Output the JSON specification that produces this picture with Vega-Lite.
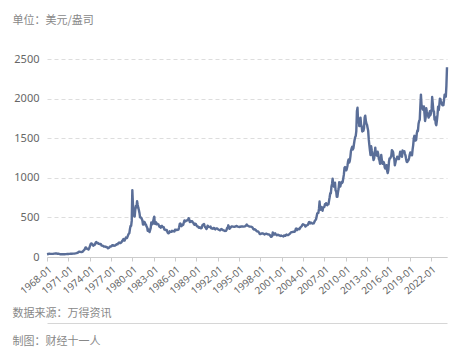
{
  "$schema": "https://vega.github.io/schema/vega-lite/v6.json",
  "autosize": "none",
  "width": 400,
  "height": 198,
  "padding": {"left": 47, "top": 59, "right": 17, "bottom": 107},
  "background": "white",
  "config": {
    "view": {"stroke": null},
    "font": "Noto Sans CJK SC"
  },
  "data": {
    "values": [
      {"date": "1968-01", "price": 35.2}, {"date": "1968-03", "price": 38}, {"date": "1968-05", "price": 41}, {"date": "1968-07", "price": 39.5}, {"date": "1968-09", "price": 39.5}, {"date": "1968-11", "price": 39.5},
      {"date": "1969-01", "price": 42.5}, {"date": "1969-03", "price": 43.5}, {"date": "1969-05", "price": 43.5}, {"date": "1969-07", "price": 41.7}, {"date": "1969-09", "price": 40.8}, {"date": "1969-11", "price": 35.4},
      {"date": "1970-01", "price": 34.9}, {"date": "1970-03", "price": 35.5}, {"date": "1970-05", "price": 35.9}, {"date": "1970-07", "price": 35.3}, {"date": "1970-09", "price": 36.2}, {"date": "1970-11", "price": 37.4},
      {"date": "1971-01", "price": 37.9}, {"date": "1971-03", "price": 38.9}, {"date": "1971-05", "price": 40.5}, {"date": "1971-07", "price": 40.9}, {"date": "1971-09", "price": 42.0}, {"date": "1971-11", "price": 42.9},
      {"date": "1972-01", "price": 45.8}, {"date": "1972-03", "price": 48.3}, {"date": "1972-05", "price": 54.6}, {"date": "1972-07", "price": 65.7}, {"date": "1972-08", "price": 67}, {"date": "1972-09", "price": 65.5}, {"date": "1972-11", "price": 62.8},
      {"date": "1973-01", "price": 65.1}, {"date": "1973-02", "price": 74.2}, {"date": "1973-03", "price": 84.3}, {"date": "1973-04", "price": 90.5}, {"date": "1973-05", "price": 102}, {"date": "1973-06", "price": 120}, {"date": "1973-07", "price": 120}, {"date": "1973-08", "price": 106}, {"date": "1973-09", "price": 103}, {"date": "1973-10", "price": 100}, {"date": "1973-11", "price": 94.8}, {"date": "1973-12", "price": 106.7},
      {"date": "1974-01", "price": 129}, {"date": "1974-02", "price": 150}, {"date": "1974-03", "price": 168}, {"date": "1974-04", "price": 172}, {"date": "1974-05", "price": 163}, {"date": "1974-06", "price": 154}, {"date": "1974-07", "price": 143}, {"date": "1974-08", "price": 154}, {"date": "1974-09", "price": 151}, {"date": "1974-10", "price": 158}, {"date": "1974-11", "price": 181}, {"date": "1974-12", "price": 190},
      {"date": "1975-01", "price": 176}, {"date": "1975-02", "price": 179}, {"date": "1975-03", "price": 178}, {"date": "1975-04", "price": 167}, {"date": "1975-05", "price": 167}, {"date": "1975-06", "price": 164}, {"date": "1975-07", "price": 165}, {"date": "1975-08", "price": 163}, {"date": "1975-09", "price": 144}, {"date": "1975-10", "price": 143}, {"date": "1975-11", "price": 142}, {"date": "1975-12", "price": 139.3},
      {"date": "1976-01", "price": 131}, {"date": "1976-02", "price": 131}, {"date": "1976-03", "price": 132}, {"date": "1976-04", "price": 128}, {"date": "1976-05", "price": 126}, {"date": "1976-06", "price": 125.8}, {"date": "1976-07", "price": 117}, {"date": "1976-08", "price": 109}, {"date": "1976-09", "price": 114}, {"date": "1976-10", "price": 117}, {"date": "1976-11", "price": 130}, {"date": "1976-12", "price": 134},
      {"date": "1977-01", "price": 132}, {"date": "1977-02", "price": 136}, {"date": "1977-03", "price": 148}, {"date": "1977-04", "price": 149}, {"date": "1977-05", "price": 146}, {"date": "1977-06", "price": 141}, {"date": "1977-07", "price": 143}, {"date": "1977-08", "price": 145}, {"date": "1977-09", "price": 150}, {"date": "1977-10", "price": 159}, {"date": "1977-11", "price": 162}, {"date": "1977-12", "price": 160},
      {"date": "1978-01", "price": 173}, {"date": "1978-02", "price": 178}, {"date": "1978-03", "price": 184}, {"date": "1978-04", "price": 175}, {"date": "1978-05", "price": 176}, {"date": "1978-06", "price": 183}, {"date": "1978-07", "price": 189}, {"date": "1978-08", "price": 206}, {"date": "1978-09", "price": 212}, {"date": "1978-10", "price": 227}, {"date": "1978-11", "price": 206}, {"date": "1978-12", "price": 208},
      {"date": "1979-01", "price": 227}, {"date": "1979-02", "price": 245}, {"date": "1979-03", "price": 242}, {"date": "1979-04", "price": 239}, {"date": "1979-05", "price": 257}, {"date": "1979-06", "price": 279}, {"date": "1979-07", "price": 295}, {"date": "1979-08", "price": 301}, {"date": "1979-09", "price": 355}, {"date": "1979-10", "price": 392}, {"date": "1979-11", "price": 392}, {"date": "1979-12", "price": 456},
      {"date": "1980-01", "price": 845}, {"date": "1980-02", "price": 665}, {"date": "1980-03", "price": 553}, {"date": "1980-04", "price": 517}, {"date": "1980-05", "price": 513}, {"date": "1980-06", "price": 600}, {"date": "1980-07", "price": 645}, {"date": "1980-08", "price": 627}, {"date": "1980-09", "price": 705}, {"date": "1980-10", "price": 660}, {"date": "1980-11", "price": 623}, {"date": "1980-12", "price": 594},
      {"date": "1981-01", "price": 557}, {"date": "1981-02", "price": 500}, {"date": "1981-03", "price": 499}, {"date": "1981-04", "price": 496}, {"date": "1981-05", "price": 479}, {"date": "1981-06", "price": 460}, {"date": "1981-07", "price": 410}, {"date": "1981-08", "price": 410}, {"date": "1981-09", "price": 444}, {"date": "1981-10", "price": 437}, {"date": "1981-11", "price": 413}, {"date": "1981-12", "price": 410},
      {"date": "1982-01", "price": 384}, {"date": "1982-02", "price": 374}, {"date": "1982-03", "price": 330}, {"date": "1982-04", "price": 350}, {"date": "1982-05", "price": 334}, {"date": "1982-06", "price": 315}, {"date": "1982-07", "price": 339}, {"date": "1982-08", "price": 364}, {"date": "1982-09", "price": 436}, {"date": "1982-10", "price": 422}, {"date": "1982-11", "price": 414}, {"date": "1982-12", "price": 447},
      {"date": "1983-01", "price": 481}, {"date": "1983-02", "price": 510}, {"date": "1983-03", "price": 420}, {"date": "1983-04", "price": 432}, {"date": "1983-05", "price": 438}, {"date": "1983-06", "price": 413}, {"date": "1983-07", "price": 422}, {"date": "1983-08", "price": 416}, {"date": "1983-09", "price": 412}, {"date": "1983-10", "price": 394}, {"date": "1983-11", "price": 382}, {"date": "1983-12", "price": 388},
      {"date": "1984-01", "price": 370}, {"date": "1984-02", "price": 386}, {"date": "1984-03", "price": 394}, {"date": "1984-04", "price": 381}, {"date": "1984-05", "price": 377}, {"date": "1984-06", "price": 377}, {"date": "1984-07", "price": 348}, {"date": "1984-08", "price": 348}, {"date": "1984-09", "price": 341}, {"date": "1984-10", "price": 340}, {"date": "1984-11", "price": 341}, {"date": "1984-12", "price": 320},
      {"date": "1985-01", "price": 303}, {"date": "1985-02", "price": 299}, {"date": "1985-03", "price": 304}, {"date": "1985-04", "price": 324}, {"date": "1985-05", "price": 316}, {"date": "1985-06", "price": 317}, {"date": "1985-07", "price": 317}, {"date": "1985-08", "price": 330}, {"date": "1985-09", "price": 324}, {"date": "1985-10", "price": 326}, {"date": "1985-11", "price": 325}, {"date": "1985-12", "price": 322},
      {"date": "1986-01", "price": 345}, {"date": "1986-02", "price": 338}, {"date": "1986-03", "price": 345}, {"date": "1986-04", "price": 340}, {"date": "1986-05", "price": 342}, {"date": "1986-06", "price": 343}, {"date": "1986-07", "price": 348}, {"date": "1986-08", "price": 376}, {"date": "1986-09", "price": 418}, {"date": "1986-10", "price": 424}, {"date": "1986-11", "price": 395}, {"date": "1986-12", "price": 390},
      {"date": "1987-01", "price": 408}, {"date": "1987-02", "price": 401}, {"date": "1987-03", "price": 409}, {"date": "1987-04", "price": 438}, {"date": "1987-05", "price": 461}, {"date": "1987-06", "price": 449}, {"date": "1987-07", "price": 450}, {"date": "1987-08", "price": 460}, {"date": "1987-09", "price": 460}, {"date": "1987-10", "price": 466}, {"date": "1987-11", "price": 467}, {"date": "1987-12", "price": 490},
      {"date": "1988-01", "price": 477}, {"date": "1988-02", "price": 442}, {"date": "1988-03", "price": 444}, {"date": "1988-04", "price": 452}, {"date": "1988-05", "price": 451}, {"date": "1988-06", "price": 452}, {"date": "1988-07", "price": 437}, {"date": "1988-08", "price": 432}, {"date": "1988-09", "price": 413}, {"date": "1988-10", "price": 407}, {"date": "1988-11", "price": 420}, {"date": "1988-12", "price": 419},
      {"date": "1989-01", "price": 404}, {"date": "1989-02", "price": 388}, {"date": "1989-03", "price": 390}, {"date": "1989-04", "price": 384}, {"date": "1989-05", "price": 371}, {"date": "1989-06", "price": 368}, {"date": "1989-07", "price": 375}, {"date": "1989-08", "price": 366}, {"date": "1989-09", "price": 362}, {"date": "1989-10", "price": 367}, {"date": "1989-11", "price": 394}, {"date": "1989-12", "price": 409},
      {"date": "1990-01", "price": 410}, {"date": "1990-02", "price": 417}, {"date": "1990-03", "price": 393}, {"date": "1990-04", "price": 374}, {"date": "1990-05", "price": 369}, {"date": "1990-06", "price": 352}, {"date": "1990-07", "price": 362}, {"date": "1990-08", "price": 395}, {"date": "1990-09", "price": 389}, {"date": "1990-10", "price": 381}, {"date": "1990-11", "price": 381}, {"date": "1990-12", "price": 378},
      {"date": "1991-01", "price": 384}, {"date": "1991-02", "price": 363}, {"date": "1991-03", "price": 363}, {"date": "1991-04", "price": 358}, {"date": "1991-05", "price": 357}, {"date": "1991-06", "price": 367}, {"date": "1991-07", "price": 368}, {"date": "1991-08", "price": 356}, {"date": "1991-09", "price": 349}, {"date": "1991-10", "price": 359}, {"date": "1991-11", "price": 361}, {"date": "1991-12", "price": 361},
      {"date": "1992-01", "price": 354}, {"date": "1992-03", "price": 344}, {"date": "1992-05", "price": 337}, {"date": "1992-07", "price": 353}, {"date": "1992-09", "price": 345}, {"date": "1992-11", "price": 335},
      {"date": "1993-01", "price": 329}, {"date": "1993-03", "price": 330}, {"date": "1993-04", "price": 342}, {"date": "1993-05", "price": 367}, {"date": "1993-06", "price": 372}, {"date": "1993-07", "price": 400}, {"date": "1993-08", "price": 379}, {"date": "1993-09", "price": 355}, {"date": "1993-10", "price": 365}, {"date": "1993-11", "price": 374}, {"date": "1993-12", "price": 383},
      {"date": "1994-01", "price": 387}, {"date": "1994-03", "price": 384}, {"date": "1994-05", "price": 381}, {"date": "1994-07", "price": 385}, {"date": "1994-09", "price": 392}, {"date": "1994-11", "price": 384},
      {"date": "1995-01", "price": 379}, {"date": "1995-03", "price": 382}, {"date": "1995-05", "price": 385}, {"date": "1995-07", "price": 386}, {"date": "1995-09", "price": 383}, {"date": "1995-11", "price": 386},
      {"date": "1996-01", "price": 400}, {"date": "1996-02", "price": 410}, {"date": "1996-03", "price": 396}, {"date": "1996-05", "price": 392}, {"date": "1996-07", "price": 383}, {"date": "1996-09", "price": 383}, {"date": "1996-11", "price": 378}, {"date": "1996-12", "price": 369},
      {"date": "1997-01", "price": 355}, {"date": "1997-02", "price": 346}, {"date": "1997-03", "price": 352}, {"date": "1997-05", "price": 344}, {"date": "1997-07", "price": 324}, {"date": "1997-09", "price": 323}, {"date": "1997-11", "price": 306}, {"date": "1997-12", "price": 289},
      {"date": "1998-01", "price": 289}, {"date": "1998-03", "price": 297}, {"date": "1998-05", "price": 299}, {"date": "1998-07", "price": 293}, {"date": "1998-08", "price": 284}, {"date": "1998-09", "price": 289}, {"date": "1998-11", "price": 294}, {"date": "1998-12", "price": 291},
      {"date": "1999-01", "price": 287}, {"date": "1999-03", "price": 286}, {"date": "1999-05", "price": 277}, {"date": "1999-07", "price": 256}, {"date": "1999-08", "price": 256}, {"date": "1999-09", "price": 265}, {"date": "1999-10", "price": 311}, {"date": "1999-11", "price": 293}, {"date": "1999-12", "price": 283},
      {"date": "2000-01", "price": 284}, {"date": "2000-02", "price": 300}, {"date": "2000-03", "price": 286}, {"date": "2000-05", "price": 275}, {"date": "2000-07", "price": 282}, {"date": "2000-09", "price": 273}, {"date": "2000-11", "price": 266}, {"date": "2000-12", "price": 272},
      {"date": "2001-01", "price": 266}, {"date": "2001-03", "price": 263}, {"date": "2001-04", "price": 260}, {"date": "2001-05", "price": 272}, {"date": "2001-07", "price": 268}, {"date": "2001-09", "price": 283}, {"date": "2001-11", "price": 276}, {"date": "2001-12", "price": 276},
      {"date": "2002-01", "price": 282}, {"date": "2002-03", "price": 295}, {"date": "2002-05", "price": 314}, {"date": "2002-07", "price": 314}, {"date": "2002-09", "price": 319}, {"date": "2002-11", "price": 319}, {"date": "2002-12", "price": 333},
      {"date": "2003-01", "price": 357}, {"date": "2003-02", "price": 359}, {"date": "2003-03", "price": 340}, {"date": "2003-05", "price": 355}, {"date": "2003-07", "price": 351}, {"date": "2003-09", "price": 378}, {"date": "2003-11", "price": 390}, {"date": "2003-12", "price": 407},
      {"date": "2004-01", "price": 414}, {"date": "2004-03", "price": 407}, {"date": "2004-04", "price": 404}, {"date": "2004-05", "price": 384}, {"date": "2004-07", "price": 398}, {"date": "2004-09", "price": 405}, {"date": "2004-11", "price": 439}, {"date": "2004-12", "price": 442},
      {"date": "2005-01", "price": 424}, {"date": "2005-03", "price": 434}, {"date": "2005-05", "price": 422}, {"date": "2005-07", "price": 424}, {"date": "2005-09", "price": 456}, {"date": "2005-11", "price": 476}, {"date": "2005-12", "price": 510},
      {"date": "2006-01", "price": 549}, {"date": "2006-02", "price": 555}, {"date": "2006-03", "price": 557}, {"date": "2006-04", "price": 610}, {"date": "2006-05", "price": 700}, {"date": "2006-06", "price": 596}, {"date": "2006-07", "price": 633}, {"date": "2006-08", "price": 632}, {"date": "2006-09", "price": 598}, {"date": "2006-10", "price": 585}, {"date": "2006-11", "price": 627}, {"date": "2006-12", "price": 629},
      {"date": "2007-01", "price": 631}, {"date": "2007-02", "price": 665}, {"date": "2007-03", "price": 655}, {"date": "2007-04", "price": 679}, {"date": "2007-05", "price": 667}, {"date": "2007-06", "price": 655}, {"date": "2007-07", "price": 665}, {"date": "2007-08", "price": 665}, {"date": "2007-09", "price": 712}, {"date": "2007-10", "price": 754}, {"date": "2007-11", "price": 806}, {"date": "2007-12", "price": 803},
      {"date": "2008-01", "price": 889}, {"date": "2008-02", "price": 922}, {"date": "2008-03", "price": 990}, {"date": "2008-04", "price": 909}, {"date": "2008-05", "price": 888}, {"date": "2008-06", "price": 889}, {"date": "2008-07", "price": 939}, {"date": "2008-08", "price": 839}, {"date": "2008-09", "price": 829}, {"date": "2008-10", "price": 760}, {"date": "2008-11", "price": 760}, {"date": "2008-12", "price": 816},
      {"date": "2009-01", "price": 858}, {"date": "2009-02", "price": 943}, {"date": "2009-03", "price": 924}, {"date": "2009-04", "price": 890}, {"date": "2009-05", "price": 928}, {"date": "2009-06", "price": 946}, {"date": "2009-07", "price": 934}, {"date": "2009-08", "price": 949}, {"date": "2009-09", "price": 996}, {"date": "2009-10", "price": 1043}, {"date": "2009-11", "price": 1127}, {"date": "2009-12", "price": 1135},
      {"date": "2010-01", "price": 1118}, {"date": "2010-02", "price": 1095}, {"date": "2010-03", "price": 1113}, {"date": "2010-04", "price": 1149}, {"date": "2010-05", "price": 1205}, {"date": "2010-06", "price": 1232}, {"date": "2010-07", "price": 1193}, {"date": "2010-08", "price": 1215}, {"date": "2010-09", "price": 1271}, {"date": "2010-10", "price": 1342}, {"date": "2010-11", "price": 1370}, {"date": "2010-12", "price": 1391},
      {"date": "2011-01", "price": 1356}, {"date": "2011-02", "price": 1372}, {"date": "2011-03", "price": 1424}, {"date": "2011-04", "price": 1474}, {"date": "2011-05", "price": 1512}, {"date": "2011-06", "price": 1529}, {"date": "2011-07", "price": 1590}, {"date": "2011-08", "price": 1840}, {"date": "2011-09", "price": 1885}, {"date": "2011-10", "price": 1700}, {"date": "2011-11", "price": 1750}, {"date": "2011-12", "price": 1652},
      {"date": "2012-01", "price": 1656}, {"date": "2012-02", "price": 1760}, {"date": "2012-03", "price": 1673}, {"date": "2012-04", "price": 1650}, {"date": "2012-05", "price": 1585}, {"date": "2012-06", "price": 1596}, {"date": "2012-07", "price": 1594}, {"date": "2012-08", "price": 1630}, {"date": "2012-09", "price": 1760}, {"date": "2012-10", "price": 1785}, {"date": "2012-11", "price": 1722}, {"date": "2012-12", "price": 1685},
      {"date": "2013-01", "price": 1670}, {"date": "2013-02", "price": 1628}, {"date": "2013-03", "price": 1593}, {"date": "2013-04", "price": 1485}, {"date": "2013-05", "price": 1414}, {"date": "2013-06", "price": 1343}, {"date": "2013-07", "price": 1286}, {"date": "2013-08", "price": 1400}, {"date": "2013-09", "price": 1348}, {"date": "2013-10", "price": 1316}, {"date": "2013-11", "price": 1275}, {"date": "2013-12", "price": 1225},
      {"date": "2014-01", "price": 1244}, {"date": "2014-02", "price": 1300}, {"date": "2014-03", "price": 1380}, {"date": "2014-04", "price": 1299}, {"date": "2014-05", "price": 1288}, {"date": "2014-06", "price": 1279}, {"date": "2014-07", "price": 1330}, {"date": "2014-08", "price": 1296}, {"date": "2014-09", "price": 1238}, {"date": "2014-10", "price": 1222}, {"date": "2014-11", "price": 1176}, {"date": "2014-12", "price": 1200},
      {"date": "2015-01", "price": 1290}, {"date": "2015-02", "price": 1227}, {"date": "2015-03", "price": 1178}, {"date": "2015-04", "price": 1198}, {"date": "2015-05", "price": 1199}, {"date": "2015-06", "price": 1181}, {"date": "2015-07", "price": 1128}, {"date": "2015-08", "price": 1117}, {"date": "2015-09", "price": 1124}, {"date": "2015-10", "price": 1159}, {"date": "2015-11", "price": 1086}, {"date": "2015-12", "price": 1060},
      {"date": "2016-01", "price": 1097}, {"date": "2016-02", "price": 1199}, {"date": "2016-03", "price": 1245}, {"date": "2016-04", "price": 1242}, {"date": "2016-05", "price": 1260}, {"date": "2016-06", "price": 1276}, {"date": "2016-07", "price": 1350}, {"date": "2016-08", "price": 1340}, {"date": "2016-09", "price": 1326}, {"date": "2016-10", "price": 1266}, {"date": "2016-11", "price": 1238}, {"date": "2016-12", "price": 1157},
      {"date": "2017-01", "price": 1192}, {"date": "2017-02", "price": 1234}, {"date": "2017-03", "price": 1231}, {"date": "2017-04", "price": 1266}, {"date": "2017-05", "price": 1246}, {"date": "2017-06", "price": 1260}, {"date": "2017-07", "price": 1236}, {"date": "2017-08", "price": 1283}, {"date": "2017-09", "price": 1330}, {"date": "2017-10", "price": 1280}, {"date": "2017-11", "price": 1283}, {"date": "2017-12", "price": 1265},
      {"date": "2018-01", "price": 1345}, {"date": "2018-02", "price": 1331}, {"date": "2018-03", "price": 1324}, {"date": "2018-04", "price": 1335}, {"date": "2018-05", "price": 1303}, {"date": "2018-06", "price": 1282}, {"date": "2018-07", "price": 1238}, {"date": "2018-08", "price": 1202}, {"date": "2018-09", "price": 1199}, {"date": "2018-10", "price": 1215}, {"date": "2018-11", "price": 1221}, {"date": "2018-12", "price": 1250},
      {"date": "2019-01", "price": 1291}, {"date": "2019-02", "price": 1320}, {"date": "2019-03", "price": 1301}, {"date": "2019-04", "price": 1286}, {"date": "2019-05", "price": 1284}, {"date": "2019-06", "price": 1359}, {"date": "2019-07", "price": 1413}, {"date": "2019-08", "price": 1500}, {"date": "2019-09", "price": 1530}, {"date": "2019-10", "price": 1495}, {"date": "2019-11", "price": 1470}, {"date": "2019-12", "price": 1480},
      {"date": "2020-01", "price": 1560}, {"date": "2020-02", "price": 1598}, {"date": "2020-03", "price": 1592}, {"date": "2020-04", "price": 1683}, {"date": "2020-05", "price": 1716}, {"date": "2020-06", "price": 1732}, {"date": "2020-07", "price": 1900}, {"date": "2020-08", "price": 2050}, {"date": "2020-09", "price": 1922}, {"date": "2020-10", "price": 1900}, {"date": "2020-11", "price": 1866}, {"date": "2020-12", "price": 1858},
      {"date": "2021-01", "price": 1900}, {"date": "2021-02", "price": 1808}, {"date": "2021-03", "price": 1718}, {"date": "2021-04", "price": 1760}, {"date": "2021-05", "price": 1880}, {"date": "2021-06", "price": 1834}, {"date": "2021-07", "price": 1807}, {"date": "2021-08", "price": 1785}, {"date": "2021-09", "price": 1760}, {"date": "2021-10", "price": 1777}, {"date": "2021-11", "price": 1840}, {"date": "2021-12", "price": 1790},
      {"date": "2022-01", "price": 1817}, {"date": "2022-02", "price": 1870}, {"date": "2022-03", "price": 2020}, {"date": "2022-04", "price": 1937}, {"date": "2022-05", "price": 1848}, {"date": "2022-06", "price": 1837}, {"date": "2022-07", "price": 1733}, {"date": "2022-08", "price": 1765}, {"date": "2022-09", "price": 1681}, {"date": "2022-10", "price": 1664}, {"date": "2022-11", "price": 1726}, {"date": "2022-12", "price": 1797},
      {"date": "2023-01", "price": 1898}, {"date": "2023-02", "price": 1855}, {"date": "2023-03", "price": 1912}, {"date": "2023-04", "price": 1999}, {"date": "2023-05", "price": 1992}, {"date": "2023-06", "price": 1942}, {"date": "2023-07", "price": 1951}, {"date": "2023-08", "price": 1918}, {"date": "2023-09", "price": 1916}, {"date": "2023-10", "price": 1918}, {"date": "2023-11", "price": 1985}, {"date": "2023-12", "price": 2050},
      {"date": "2024-01", "price": 2030}, {"date": "2024-02", "price": 2025}, {"date": "2024-03", "price": 2160}, {"date": "2024-04", "price": 2395}
    ]
  },
  "layer": [
    {
      "mark": {"type": "line", "color": "#5a6e98", "strokeWidth": 2.4, "strokeJoin": "round"},
      "encoding": {
        "x": {
          "field": "date",
          "type": "temporal",
          "scale": {"nice": false},
          "axis": {
            "values": ["1968-01-01", "1971-01-01", "1974-01-01", "1977-01-01", "1980-01-01", "1983-01-01", "1986-01-01", "1989-01-01", "1992-01-01", "1995-01-01", "1998-01-01", "2001-01-01", "2004-01-01", "2007-01-01", "2010-01-01", "2013-01-01", "2016-01-01", "2019-01-01", "2022-01-01"],
            "format": "%Y-%m",
            "labelAngle": -40,
            "labelFontSize": 10,
            "labelColor": "#666666",
            "labelFont": "Noto Sans",
            "labelPadding": 3,
            "labelOverlap": false,
            "grid": false,
            "domainColor": "#cccccc",
            "tickColor": "#cccccc",
            "tickSize": 4,
            "title": ["数据来源：万得资讯", "制图：财经十一人"],
            "titleFontSize": 11,
            "titleFontWeight": "normal",
            "titleColor": "#888888",
            "titleAlign": "left",
            "titleAnchor": "start",
            "titleAngle": 0,
            "titleBaseline": "top",
            "titleLineHeight": 28.5,
            "titleX": -35,
            "titleY": 50
          }
        },
        "y": {
          "field": "price",
          "type": "quantitative",
          "scale": {"domain": [0, 2500], "nice": false},
          "axis": {
            "values": [0, 500, 1000, 1500, 2000, 2500],
            "format": "d",
            "domain": false,
            "ticks": false,
            "labelFontSize": 11,
            "labelColor": "#666666",
            "labelFont": "Noto Sans",
            "labelPadding": 8,
            "gridColor": "#dddddd",
            "gridDash": [4, 3],
            "title": "单位：美元/盎司",
            "titleFontSize": 11,
            "titleFontWeight": "normal",
            "titleColor": "#888888",
            "titleAngle": 0,
            "titleAlign": "left",
            "titleBaseline": "middle",
            "titleX": -35,
            "titleY": -39
          }
        }
      }
    },
    {
      "mark": {"type": "line", "opacity": 0},
      "encoding": {
        "x": {
          "field": "date",
          "type": "temporal",
          "axis": {
            "orient": "bottom",
            "offset": 66,
            "labels": false,
            "ticks": false,
            "grid": false,
            "domain": true,
            "domainColor": "#d6d6d6",
            "domainWidth": 1,
            "title": null
          }
        },
        "y": {"field": "price", "type": "quantitative", "axis": null}
      }
    }
  ],
  "resolve": {"axis": {"x": "independent", "y": "independent"}}
}
